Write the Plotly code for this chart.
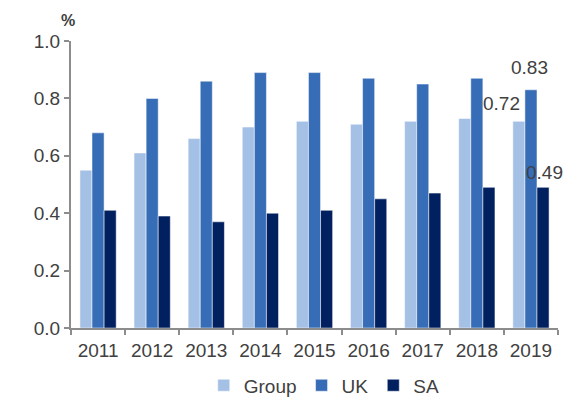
import plotly.graph_objects as go

years = ["2011", "2012", "2013", "2014", "2015", "2016", "2017", "2018", "2019"]
group = [0.55, 0.61, 0.66, 0.70, 0.72, 0.71, 0.72, 0.73, 0.72]
uk = [0.68, 0.80, 0.86, 0.89, 0.89, 0.87, 0.85, 0.87, 0.83]
sa = [0.41, 0.39, 0.37, 0.40, 0.41, 0.45, 0.47, 0.49, 0.49]
y_ticks = [0.0, 0.2, 0.4, 0.6, 0.8, 1.0]

series = [("Group", group, "#A5C0E5"), ("UK", uk, "#376DB6"), ("SA", sa, "#002060")]
text_color = "#404040"
font = "Liberation Sans, Arial, sans-serif"

fig = go.Figure()
for name, vals, color in series:
    fig.add_trace(go.Bar(
        x=years, y=vals, name=name,
        marker=dict(color=color, line=dict(color="white", width=0.5)),
    ))

# value callouts on the last year (category index so the axis stays categorical)
last_idx = len(years) - 1
callouts = [
    (group[-1], -9, 18, "right"),
    (uk[-1], -1, 22, "center"),
    (sa[-1], 14, 15, "center"),
]
for val, dx, dy, anchor in callouts:
    fig.add_annotation(
        x=last_idx, y=val, xref="x", yref="y", text=f"{val:.2f}",
        showarrow=False, xanchor=anchor, yanchor="middle",
        xshift=dx, yshift=dy,
        font=dict(size=19, color=text_color, family=font),
    )

fig.add_annotation(
    x=-0.006, y=1.073, xref="paper", yref="paper", text="<b>%</b>",
    showarrow=False, xanchor="center", yanchor="middle",
    font=dict(size=16, color=text_color, family=font),
)

axis_color = "#8C8C8C"
fig.update_layout(
    width=565, height=397,
    margin=dict(l=71, r=7, t=41, b=69, autoexpand=False),
    paper_bgcolor="white", plot_bgcolor="white",
    barmode="group", bargap=0.33, bargroupgap=0,
    font=dict(family=font, size=19, color=text_color),
    showlegend=True,
    legend=dict(
        orientation="h", x=0.52, xanchor="center", y=-0.2, yanchor="middle",
        font=dict(size=19, color=text_color),
    ),
    xaxis=dict(
        type="category", range=[-0.5, len(years) - 0.5],
        showline=True, linecolor=axis_color, linewidth=2,
        ticks="outside", tickson="boundaries", ticklen=5, tickcolor=axis_color,
        tickwidth=2, showgrid=False, tickfont=dict(size=19, color=text_color),
        ticklabelstandoff=4,
    ),
    yaxis=dict(
        range=[0, 1.0], tickvals=y_ticks,
        ticktext=[f"{v:.1f}" for v in y_ticks],
        showline=True, linecolor=axis_color, linewidth=2,
        ticks="outside", ticklen=5, tickcolor=axis_color, tickwidth=2,
        showgrid=False, zeroline=False, tickfont=dict(size=19, color=text_color),
    ),
)

fig.write_html("out.html")
